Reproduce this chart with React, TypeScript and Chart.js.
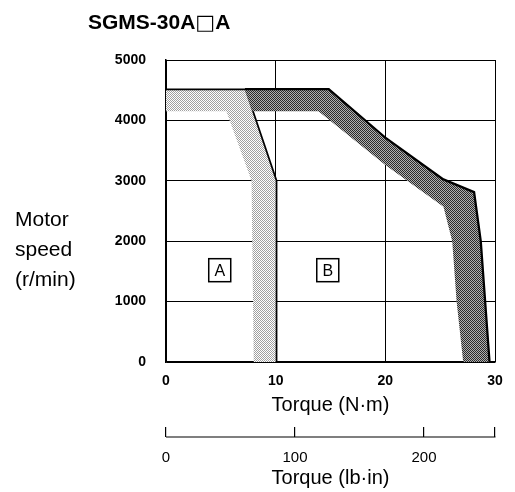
import React, { useEffect, useRef } from 'react';
import { Chart, registerables } from 'chart.js';
Chart.register(...registerables);

const titleParts = ['SGMS-30A', '□', 'A'];
const yTitleLines = ['Motor', 'speed', '(r/min)'];
const xTitle = 'Torque (N·m)';
const x2Title = 'Torque (lb·in)';

const xMin = 0;
const xMax = 30;
const xStep = 10;
const yMin = 0;
const yMax = 5000;
const yStep = 1000;
const x2Ticks = [0, 100, 200];
const x2Max = 255;

// Region A (continuous duty) – outer (black) edge and inner edge
const aOuterTorque = [0, 7.2, 10, 10];
const aOuterSpeed = [4500, 4500, 3000, 0];
const aInnerTorque = [0, 5.5, 7.8, 8.0];
const aInnerSpeed = [4150, 4150, 3000, 0];

// Region B (intermittent duty) – outer (black) edge and inner edge
const bOuterTorque = [7.2, 14.8, 20, 25.2, 28.0, 28.6, 29.0, 29.4];
const bOuterSpeed = [4500, 4500, 3690, 3010, 2800, 2000, 1000, 0];
const bInnerTorque = [7.85, 13.9, 20, 25.3, 26.1, 26.5, 27.1];
const bInnerSpeed = [4150, 4150, 3260, 2570, 2000, 1000, 0];

// Region labels
const labelText = ['A', 'B'];
const labelTorque = [4.9, 14.75];
const labelSpeed = [1520, 1520];

const FONT = '"Liberation Sans", Arial, Helvetica, sans-serif';
const TICK_LEN = 10;

const pts = (xs: number[], ys: number[]) => xs.map((x, i) => ({ x, y: ys[i] }));
const polygon = (ox: number[], oy: number[], ix: number[], iy: number[]) =>
  pts(ox, oy).concat(pts(ix, iy).reverse());

function makePattern(fg: string, bg: string) {
  const c = document.createElement('canvas');
  c.width = 2;
  c.height = 2;
  const g = c.getContext('2d')!;
  g.fillStyle = bg;
  g.fillRect(0, 0, 2, 2);
  g.fillStyle = fg;
  g.fillRect(0, 0, 1, 1);
  g.fillRect(1, 1, 1, 1);
  return g.createPattern(c, 'repeat')!;
}

const overlayPlugin = {
  id: 'overlay',
  afterDraw(chart: any) {
    const ctx = chart.ctx as CanvasRenderingContext2D;
    const xs = chart.scales.x;
    const ys = chart.scales.y;
    const x2 = chart.scales.x2;
    ctx.save();
    // secondary axis base line
    ctx.strokeStyle = '#000';
    ctx.lineWidth = 1.2;
    const yb = x2.top + TICK_LEN;
    ctx.beginPath();
    ctx.moveTo(x2.left, yb);
    ctx.lineTo(x2.right + 0.5, yb);
    ctx.stroke();

    // chart title (box glyph in a font with a larger square)
    ctx.fillStyle = '#000';
    ctx.textAlign = 'left';
    ctx.textBaseline = 'alphabetic';
    const fonts = [`bold 21px ${FONT}`, `21px "DejaVu Sans", ${FONT}`, `bold 21px ${FONT}`];
    let tx = 88;
    titleParts.forEach((t, i) => {
      ctx.font = fonts[i];
      ctx.fillText(t, tx, 29);
      tx += ctx.measureText(t).width;
    });

    // y title
    ctx.font = `21px ${FONT}`;
    ctx.textBaseline = 'middle';
    yTitleLines.forEach((t, i) => ctx.fillText(t, 15, 220 + i * 30));

    // region labels
    ctx.font = `16px ${FONT}`;
    ctx.textAlign = 'center';
    ctx.lineWidth = 1.5;
    labelText.forEach((t, i) => {
      const px = xs.getPixelForValue(labelTorque[i]);
      const py = ys.getPixelForValue(labelSpeed[i]);
      ctx.strokeRect(px - 11, py - 11.5, 22, 23);
      ctx.fillText(t, px, py + 1);
    });
    ctx.restore();
  },
};

export default function App() {
  const ref = useRef<HTMLCanvasElement>(null);
  useEffect(() => {
    if (!ref.current) return;
    const patA = makePattern('#a0a0a0', '#ffffff');
    const patB = makePattern('#2a2a2a', '#b0b0b0');
    const chart = new Chart(ref.current, {
      type: 'scatter',
      data: {
        datasets: [
          {
            data: polygon(aOuterTorque, aOuterSpeed, aInnerTorque, aInnerSpeed),
            showLine: true,
            fill: 'shape',
            backgroundColor: patA,
            borderWidth: 0,
            pointRadius: 0,
          } as any,
          {
            data: polygon(bOuterTorque, bOuterSpeed, bInnerTorque, bInnerSpeed),
            showLine: true,
            fill: 'shape',
            backgroundColor: patB,
            borderWidth: 0,
            pointRadius: 0,
          },
          {
            data: pts(aOuterTorque, aOuterSpeed),
            showLine: true,
            fill: false,
            borderColor: '#000',
            borderWidth: 3.5,
            borderJoinStyle: 'miter',
            pointRadius: 0,
          },
          {
            data: pts(bOuterTorque, bOuterSpeed),
            showLine: true,
            fill: false,
            borderColor: '#000',
            borderWidth: 4.5,
            borderJoinStyle: 'miter',
            pointRadius: 0,
          },
        ],
      },
      options: {
        animation: false,
        responsive: true,
        maintainAspectRatio: false,
        layout: { padding: { top: 60, right: 20, left: 0, bottom: 0 } },
        plugins: { legend: { display: false }, tooltip: { enabled: false }, title: { display: false } },
        scales: {
          x: {
            type: 'linear',
            position: 'bottom',
            weight: 0,
            min: xMin,
            max: xMax,
            z: 1,
            grid: { color: '#000', lineWidth: 1, drawTicks: false },
            border: { color: '#000', width: 1.5 },
            ticks: {
              stepSize: xStep,
              color: '#000',
              padding: 11,
              font: { family: FONT, size: 14, weight: 'bold' },
              callback: (v: any) => String(v),
            },
            title: {
              display: true,
              text: xTitle,
              color: '#000',
              font: { family: FONT, size: 20 },
              padding: { top: 0, bottom: 10 },
            },
            afterFit: (s: any) => { s.height = 65; },
          },
          x2: {
            type: 'linear',
            position: 'bottom',
            weight: 1,
            min: 0,
            max: x2Max,
            grid: { color: '#000', lineWidth: 1.2, drawOnChartArea: false, drawTicks: true, tickLength: TICK_LEN },
            border: { display: false },
            afterBuildTicks: (s: any) => {
              s.ticks = x2Ticks.concat([x2Max]).map((v) => ({ value: v }));
            },
            ticks: {
              color: '#000',
              padding: 12,
              font: { family: FONT, size: 15 },
              callback: (v: any) => (x2Ticks.includes(Number(v)) ? String(v) : ''),
            },
            title: {
              display: true,
              text: x2Title,
              color: '#000',
              font: { family: FONT, size: 20 },
              padding: { top: 0, bottom: 2 },
            },
            afterFit: (s: any) => { s.height = 65; },
          },
          y: {
            type: 'linear',
            min: yMin,
            max: yMax,
            z: 1,
            grid: { color: '#000', lineWidth: 1, drawTicks: false },
            border: { color: '#000', width: 1.5 },
            ticks: {
              stepSize: yStep,
              color: '#000',
              padding: 20,
              font: { family: FONT, size: 14, weight: 'bold' },
              callback: (v: any) => String(v),
            },
            afterFit: (s: any) => { s.width = 166; },
          },
        },
      },
      plugins: [overlayPlugin],
    });
    return () => chart.destroy();
  }, []);
  return (
    <div style={{ position: 'absolute', left: 0, top: 0, width: 515, height: 492 }}>
      <canvas ref={ref} />
    </div>
  );
}
